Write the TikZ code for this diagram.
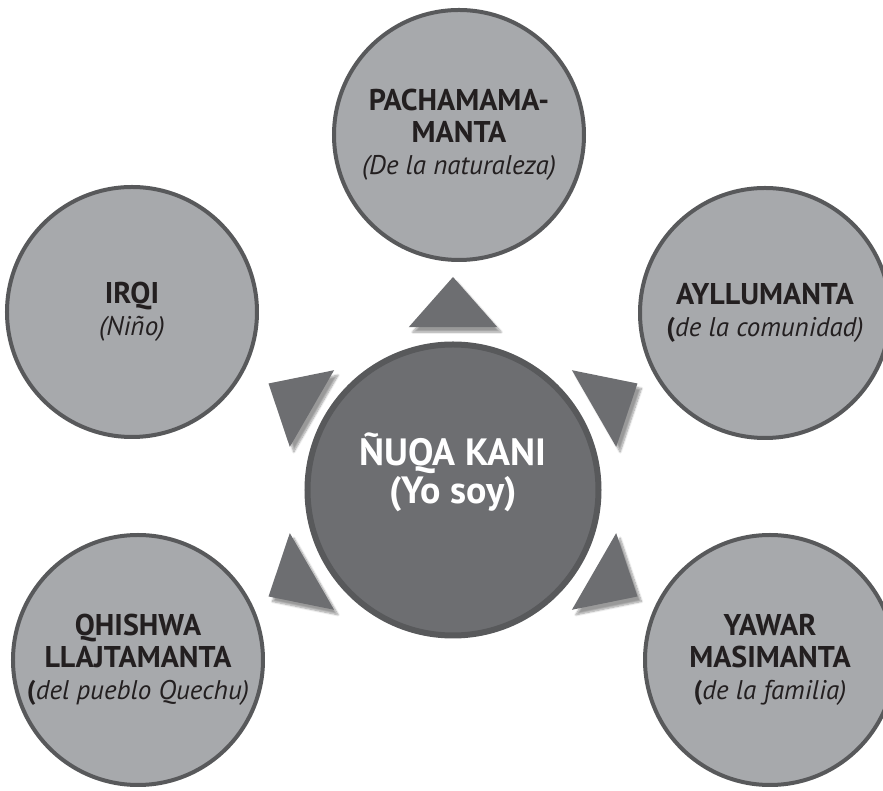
\documentclass[tikz,border=0pt]{standalone}
\usepackage{fontspec}
\setmainfont{PT Sans}
\usetikzlibrary{shadows.blur}
\definecolor{tgris}{HTML}{A7A9AC}
\definecolor{tfonce}{HTML}{6D6E71}
\definecolor{tbord}{HTML}{58595B}
\definecolor{tnoir}{HTML}{231F20}
\newcommand{\sens}[1]{{\fontsize{27}{32}\selectfont #1}}

\begin{document}
\begin{tikzpicture}[
    x=1pt, y=1pt,
    satellite/.style={draw=tbord, circle, line width=4pt, fill=tgris,
                      minimum size=250pt, inner sep=0pt, align=center,
                      text=tnoir, font=\fontsize{30}{32}\selectfont},
    coeur/.style={draw=tbord, circle, line width=6pt, fill=tfonce,
                  minimum size=291pt, inner sep=0pt, align=center,
                  text=white, font=\fontsize{38}{38}\selectfont\bfseries},
    pointe/.style={fill=tfonce, blur shadow={shadow xshift=4pt,
                   shadow yshift=-5pt, shadow blur steps=8}}
  ]
  \useasboundingbox (-453,-301) rectangle (430,490);

  % les triangles autour du centre
  \foreach \ang in {30,90,150,210,330}
    \fill[pointe] (\ang:213) -- (\ang+15.2:168.8) -- (\ang-15.2:168.8) -- cycle;

  \node[coeur] (nuqa) at (0,0) {ÑUQA KANI\\(Yo soy)\\[6pt]};

  \node[satellite] (pacha) at (6,355)
    {\textbf{PACHAMAMA-}\\\textbf{MANTA}\\\sens{\textit{(De la naturaleza)}}};
  \node[satellite] (irqi) at (-321,178)
    {\textbf{IRQI}\\\sens{\textit{(Niño)}}};
  \node[satellite] (ayllu) at (312,177)
    {\textbf{AYLLUMANTA}\\\sens{\textbf{(}\textit{de la comunidad)}}};
  \node[satellite] (qhishwa) at (-315,-170)
    {\textbf{QHISHWA}\\\textbf{LLAJTAMANTA}\\\sens{\textbf{(}\textit{del pueblo Quechu)}}};
  \node[satellite] (yawar) at (317,-170)
    {\textbf{YAWAR}\\\textbf{MASIMANTA}\\\sens{\textbf{(}\textit{de la familia)}}};
\end{tikzpicture}
\end{document}
